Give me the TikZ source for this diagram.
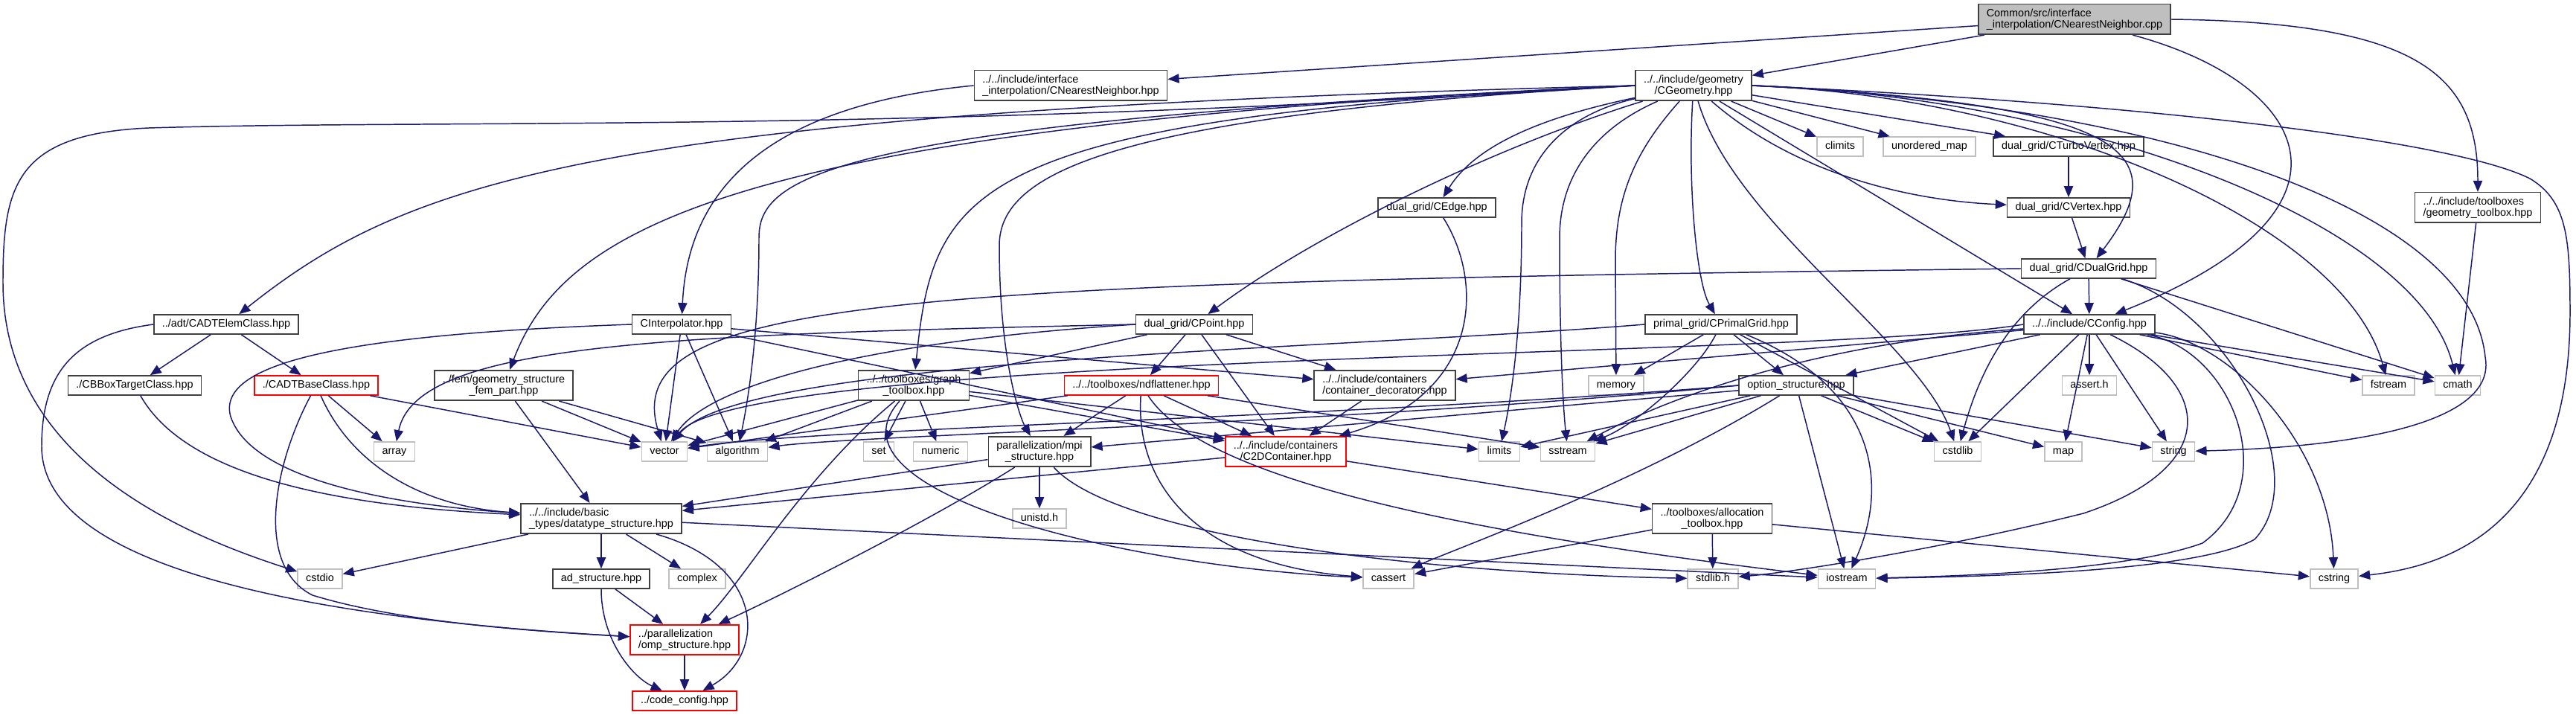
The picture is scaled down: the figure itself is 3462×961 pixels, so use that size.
\documentclass[tikz,border=0pt]{standalone}
\usepackage{fontspec}
\setmainfont{Liberation Sans}
\usepackage{tikz}
\usetikzlibrary{arrows.meta}
\definecolor{edgeblue}{HTML}{191970}
\definecolor{sysgray}{HTML}{BFBFBF}
\definecolor{hdrgray}{HTML}{404040}
\begin{document}
\begin{tikzpicture}[x=0.01cm, y=-0.01cm,
            every node/.style={font=\fontsize{4.1}{4.3}\selectfont, inner xsep=0.11cm, inner ysep=0.06cm, minimum height=0.26cm, text depth=0.03cm, line width=0.45pt},
            hdr/.style={draw=hdrgray},
            sys/.style={draw=sysgray, text height=0.105cm},
            trunc/.style={draw=red},
            src/.style={draw=hdrgray, fill=sysgray},
            inc/.style={draw=edgeblue, line width=0.42pt, -{Triangle[length=4.3pt,width=3.5pt]}}]
            \useasboundingbox (0,0) rectangle (3462,961);
            \fill[white] (0,0) rectangle (3462,961);
            \node[src, align=left] (root) at (2788,26) {Common/src/interface\\\_interpolation/CNearestNeighbor.cpp};
            \node[hdr, align=left] (nnhpp) at (1439,115) {../../include/interface\\\_interpolation/CNearestNeighbor.hpp};
            \node[hdr, align=center] (geom) at (2276,115) {../../include/geometry\\/CGeometry.hpp};
            \node[sys] (climits) at (2473,197) {climits};
            \node[sys] (umap) at (2593,197) {unordered\_map};
            \node[hdr] (turbo) at (2780,197) {dual\_grid/CTurboVertex.hpp};
            \node[hdr] (vertex) at (2780,279) {dual\_grid/CVertex.hpp};
            \node[hdr] (dualgrid) at (2807,361) {dual\_grid/CDualGrid.hpp};
            \node[hdr] (config) at (2808,436) {../../include/CConfig.hpp};
            \node[hdr, align=left] (geotool) at (3330,279) {../../include/toolboxes\\/geometry\_toolbox.hpp};
            \node[hdr] (edge) at (1931,279) {dual\_grid/CEdge.hpp};
            \node[hdr] (point) at (1605,436) {dual\_grid/CPoint.hpp};
            \node[hdr] (primal) at (2313,436) {primal\_grid/CPrimalGrid.hpp};
            \node[hdr] (interp) at (916,436) {CInterpolator.hpp};
            \node[hdr] (adtelem) at (304,436) {../adt/CADTElemClass.hpp};
            \node[hdr] (bbox) at (181,518) {./CBBoxTargetClass.hpp};
            \node[trunc] (adtbase) at (425,518) {./CADTBaseClass.hpp};
            \node[hdr, align=center] (fem) at (677,518) {../fem/geometry\_structure\\\_fem\_part.hpp};
            \node[hdr, align=center] (graph) at (1228,518) {../../toolboxes/graph\\\_toolbox.hpp};
            \node[trunc] (ndflat) at (1534,518) {../../toolboxes/ndflattener.hpp};
            \node[hdr, align=left] (decor) at (1861,518) {../../include/containers\\/container\_decorators.hpp};
            \node[sys] (memory) at (2172,518) {memory};
            \node[hdr] (option) at (2414,518) {option\_structure.hpp};
            \node[sys] (asserth) at (2808,518) {assert.h};
            \node[sys] (fstream) at (3210,518) {fstream};
            \node[sys] (cmath) at (3303,518) {cmath};
            \node[sys] (array) at (530,607) {array};
            \node[sys] (vector) at (893,607) {vector};
            \node[sys] (algorithm) at (991,607) {algorithm};
            \node[sys] (set) at (1181,607) {set};
            \node[sys] (numeric) at (1264,607) {numeric};
            \node[hdr, align=center] (mpi) at (1397,607) {parallelization/mpi\\\_structure.hpp};
            \node[trunc, align=center] (ctwod) at (1728,607) {../../include/containers\\/C2DContainer.hpp};
            \node[sys] (limits) at (2015,607) {limits};
            \node[sys] (sstream) at (2107,607) {sstream};
            \node[sys] (cstdlib) at (2631,607) {cstdlib};
            \node[sys] (map) at (2773,607) {map};
            \node[sys] (string) at (2921,607) {string};
            \node[hdr, align=left] (datatype) at (808,697) {../../include/basic\\\_types/datatype\_structure.hpp};
            \node[sys] (unistd) at (1397,697) {unistd.h};
            \node[hdr, align=center] (alloc) at (2301,697) {../toolboxes/allocation\\\_toolbox.hpp};
            \node[sys] (cstdio) at (430,778) {cstdio};
            \node[hdr] (ad) at (808,778) {ad\_structure.hpp};
            \node[sys] (complex) at (937,778) {complex};
            \node[sys] (cassert) at (1866,778) {cassert};
            \node[sys] (stdlibh) at (2302,778) {stdlib.h};
            \node[sys] (iostream) at (2482,778) {iostream};
            \node[sys] (cstring) at (3137,778) {cstring};
            \node[trunc, align=left] (omp) at (920,860) {../parallelization\\/omp\_structure.hpp};
            \node[trunc] (codecfg) at (920,942) {../code\_config.hpp};

            \draw[inc] (root) -- (nnhpp);
            \draw[inc] (root) -- (geom);
            \draw[inc] (root) .. controls (3100,110) and (3200,280) .. (config);
            \draw[inc] (root.east) .. controls (3250,30) and (3330,100) .. (geotool);
            \draw[inc] (nnhpp.west) .. controls (1050,140) and (925,240) .. (interp);

            \draw[inc] (geom.west) .. controls (1200,180) and (600,160) .. (200,172) .. controls (20,180) and (4,250) .. (4,380) .. controls (4,620) and (250,720) .. (cstdio);
            \draw[inc] (geom.west) .. controls (800,150) and (550,240) .. (adtelem);
            \draw[inc] (geom.west) .. controls (1000,170) and (760,300) .. (fem);
            \draw[inc] (geom.west) .. controls (1100,165) and (1020,240) .. (1020,320) .. controls (1020,450) and (1005,540) .. (algorithm);
            \draw[inc] (geom.west) .. controls (1300,160) and (1255,250) .. (graph);
            \draw[inc] (geom.west) .. controls (1500,155) and (1343,230) .. (1343,330) .. controls (1343,480) and (1370,560) .. (mpi);
            \draw[inc] (geom) .. controls (2000,200) and (1760,320) .. (point);
            \draw[inc] (geom) .. controls (2060,160) and (1980,200) .. (edge);
            \draw[inc] (geom) .. controls (2120,150) and (2045,200) .. (2045,300) .. controls (2045,450) and (2030,540) .. (limits);
            \draw[inc] (geom) .. controls (2150,170) and (2096,230) .. (2096,320) .. controls (2096,450) and (2100,540) .. (sstream);
            \draw[inc] (geom) .. controls (2200,200) and (2171,260) .. (2171,350) -- (memory);
            \draw[inc] (geom) .. controls (2268,250) and (2280,380) .. (primal);
            \draw[inc] (geom) .. controls (2330,300) and (2580,460) .. (cstdlib);
            \draw[inc] (geom) -- (config);
            \draw[inc] (geom) -- (climits);
            \draw[inc] (geom) -- (umap);
            \draw[inc] (geom) -- (turbo);
            \draw[inc] (geom) .. controls (2420,240) and (2580,270) .. (vertex);
            \draw[inc] (geom.east) .. controls (2850,140) and (2930,200) .. (dualgrid);
            \draw[inc] (geom.east) .. controls (2750,130) and (3150,300) .. (fstream);
            \draw[inc] (geom.east) .. controls (2800,130) and (3250,300) .. (cmath);
            \draw[inc] (geom.east) .. controls (2900,140) and (3320,280) .. (3340,480) .. controls (3355,560) and (3200,600) .. (string);
            \draw[inc] (geom.east) .. controls (2900,140) and (3300,190) .. (3400,240) .. controls (3450,270) and (3454,320) .. (3454,420) .. controls (3454,700) and (3300,760) .. (cstring);

            \draw[inc] (turbo) -- (vertex);
            \draw[inc] (vertex) -- (dualgrid);
            \draw[inc] (dualgrid) -- (config);
            \draw[inc] (dualgrid.west) .. controls (1200,380) and (830,400) .. (vector);
            \draw[inc] (dualgrid) .. controls (2700,420) and (2660,500) .. (cstdlib);
            \draw[inc] (dualgrid) -- (cmath);
            \draw[inc] (dualgrid) .. controls (3000,420) and (3110,640) .. (3030,725) .. controls (2950,770) and (2650,775) .. (iostream);
            \draw[inc] (geotool) -- (cmath);

            \draw[inc] (config) -- (option);
            \draw[inc] (config) -- (decor);
            \draw[inc] (config.west) .. controls (2450,482) and (1000,472) .. (vector);
            \draw[inc] (config) .. controls (2450,460) and (2250,530) .. (sstream);
            \draw[inc] (config) -- (cstdlib);
            \draw[inc] (config) -- (asserth);
            \draw[inc] (config) -- (map);
            \draw[inc] (config) -- (string);
            \draw[inc] (config) -- (fstream);
            \draw[inc] (config) -- (cmath);
            \draw[inc] (config) .. controls (3000,470) and (3070,650) .. (2960,730) .. controls (2850,770) and (2600,775) .. (iostream);
            \draw[inc] (config) .. controls (3000,460) and (3130,600) .. (cstring);
            \draw[inc] (config) .. controls (2980,520) and (2980,630) .. (2800,690) .. controls (2600,740) and (2400,770) .. (stdlibh);

            \draw[inc] (primal) -- (memory);
            \draw[inc] (primal) -- (option);
            \draw[inc] (primal) -- (cstdlib);
            \draw[inc] (primal) .. controls (2520,520) and (2540,650) .. (iostream);
            \draw[inc] (primal) .. controls (2280,500) and (2200,570) .. (sstream);
            \draw[inc] (primal.west) .. controls (1800,470) and (1000,480) .. (vector);

            \draw[inc] (point) -- (graph);
            \draw[inc] (point) -- (ndflat);
            \draw[inc] (point) -- (ctwod);
            \draw[inc] (point) -- (decor);
            \draw[inc] (point.west) .. controls (900,450) and (560,460) .. (array);
            \draw[inc] (point.west) .. controls (1150,460) and (950,520) .. (vector);
            \draw[inc] (edge) .. controls (1995,380) and (1990,530) .. (ctwod);

            \draw[inc] (interp.west) .. controls (450,450) and (290,490) .. (310,560) .. controls (340,650) and (550,680) .. (datatype);
            \draw[inc] (interp) -- (vector);
            \draw[inc] (interp) -- (algorithm);
            \draw[inc] (interp) -- (ctwod);
            \draw[inc] (interp) -- (decor);

            \draw[inc] (adtelem) -- (bbox);
            \draw[inc] (adtelem) -- (adtbase);
            \draw[inc] (adtelem.west) .. controls (100,450) and (56,500) .. (56,600) .. controls (56,760) and (400,830) .. (omp);
            \draw[inc] (bbox) .. controls (250,640) and (450,680) .. (datatype);
            \draw[inc] (adtbase) -- (array);
            \draw[inc] (adtbase) .. controls (470,620) and (560,680) .. (datatype);
            \draw[inc] (adtbase) .. controls (370,620) and (340,760) .. (420,800) .. controls (550,840) and (750,850) .. (omp);
            \draw[inc] (adtbase) -- (vector);

            \draw[inc] (fem) -- (datatype);
            \draw[inc] (fem) -- (vector);
            \draw[inc] (fem) -- (algorithm);

            \draw[inc] (graph) -- (vector);
            \draw[inc] (graph) -- (algorithm);
            \draw[inc] (graph) -- (set);
            \draw[inc] (graph) -- (numeric);
            \draw[inc] (graph) .. controls (1080,640) and (1000,780) .. (omp);
            \draw[inc] (graph) .. controls (1100,660) and (1500,760) .. (cassert);
            \draw[inc] (graph) -- (ctwod);
            \draw[inc] (graph) -- (limits);

            \draw[inc] (ndflat) -- (mpi);
            \draw[inc] (ndflat) -- (ctwod);
            \draw[inc] (ndflat) .. controls (1525,660) and (1620,760) .. (cassert);
            \draw[inc] (ndflat) .. controls (1620,650) and (2000,720) .. (iostream);
            \draw[inc] (ndflat) -- (sstream);
            \draw[inc] (ndflat) -- (vector);
            \draw[inc] (decor) -- (ctwod);
            \draw[inc] (ctwod) -- (datatype);
            \draw[inc] (ctwod) -- (alloc);

            \draw[inc] (mpi) -- (datatype);
            \draw[inc] (mpi) .. controls (1250,700) and (1050,800) .. (omp);
            \draw[inc] (mpi) -- (unistd);
            \draw[inc] (mpi) .. controls (1500,720) and (1900,770) .. (stdlibh);

            \draw[inc] (option.west) .. controls (1800,562) and (1100,575) .. (vector);
            \draw[inc] (option.west) .. controls (1800,570) and (1150,585) .. (algorithm);
            \draw[inc] (option) -- (mpi);
            \draw[inc] (option) -- (sstream);
            \draw[inc] (option) -- (limits);
            \draw[inc] (option) .. controls (2200,650) and (1950,740) .. (cassert);
            \draw[inc] (option) -- (iostream);
            \draw[inc] (option) -- (cstdlib);
            \draw[inc] (option) -- (map);
            \draw[inc] (option) -- (string);

            \draw[inc] (alloc) -- (cassert);
            \draw[inc] (alloc) -- (stdlibh);
            \draw[inc] (alloc) -- (cstring);

            \draw[inc] (datatype) -- (cstdio);
            \draw[inc] (datatype) -- (ad);
            \draw[inc] (datatype) -- (complex);
            \draw[inc] (datatype) .. controls (1030,760) and (1030,880) .. (codecfg);
            \draw[inc] (datatype) -- (iostream);
            \draw[inc] (ad) -- (omp);
            \draw[inc] (ad) .. controls (808,860) and (850,910) .. (codecfg);
            \draw[inc] (omp) -- (codecfg);
        \end{tikzpicture}
\end{document}
